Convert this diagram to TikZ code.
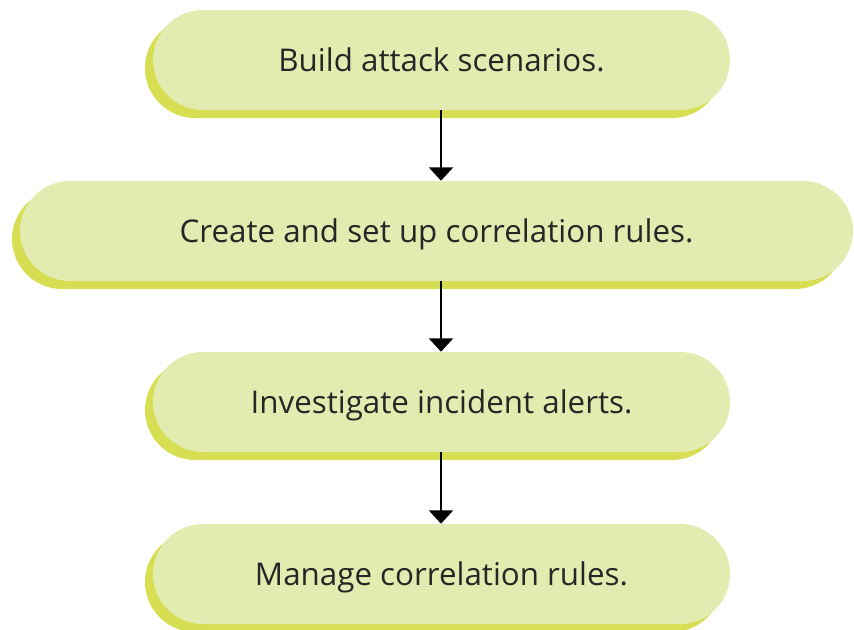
\documentclass[tikz,border=0pt]{standalone}
\usepackage{fontspec}
\setmainfont{Open Sans}
\usepackage{xcolor}
\usetikzlibrary{shapes.misc,shadows,arrows.meta}
\definecolor{pillfill}{HTML}{E3ECB0}
\definecolor{pillshade}{HTML}{D7DE52}

\begin{document}
\begin{tikzpicture}[x=0.75pt, y=-0.75pt,
  stage/.style={rounded rectangle, fill=pillfill, minimum height=75pt,
    minimum width=432.75pt, inner sep=0pt, text depth=0pt,
    font=\fontsize{23.5}{28}\selectfont, text=black!85,
    general shadow={shadow xshift=-6pt, shadow yshift=-6pt, fill=pillshade}},
  flow/.style={-{Triangle[width=18pt,length=10pt]}, line width=1.5pt}]
  \useasboundingbox (0,0) rectangle (854,629);
  \node[stage] (scen) at (441.5,60) {Build attack scenarios.};
  \node[stage, minimum width=624.75pt] (rules) at (436.5,231) {Create and set up correlation rules.};
  \node[stage] (alerts) at (441.5,402) {Investigate incident alerts.};
  \node[stage] (manage) at (441.5,574) {Manage correlation rules.};
  \draw[flow] (scen.south -| 441,0) -- (rules.north -| 441,0);
  \draw[flow] (rules.south -| 441,0) -- (alerts.north -| 441,0);
  \draw[flow] (alerts.south -| 441,0) -- (manage.north -| 441,0);
\end{tikzpicture}
\end{document}
